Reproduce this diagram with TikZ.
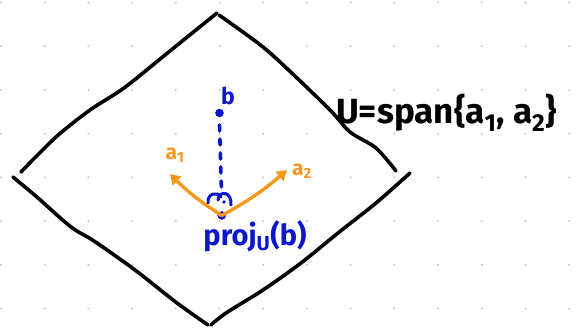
\documentclass[tikz,border=0pt]{standalone}
\usepackage{fontspec}
\setmainfont{Fira Sans}
\usetikzlibrary{arrows.meta}
\definecolor{penblue}{RGB}{12,22,205}
\definecolor{penorange}{RGB}{247,152,30}

\begin{document}
\begin{tikzpicture}[x=1pt,y=-1pt]
  \tikzset{
    pen/.style={line width=3.6pt, line cap=round, line join=round},
    vec/.style={pen, penorange, line width=3.4pt, -{Triangle[length=10pt,width=12pt]}},
    hand/.style={inner sep=0pt, font=\bfseries},
  }
  \useasboundingbox (0,0) rectangle (580,329);

  % dot grid
  \foreach \i in {0,...,13}
    \foreach \j in {0,...,7}
      \fill[gray!45] (1+43.7*\i, 2.6+43.7*\j) circle (1.1pt);

  % plane U
  \draw[pen] plot[smooth] coordinates {(21,172) (56,137) (90,110) (124,88) (165,55) (217,13)};
  \draw[pen] plot[smooth] coordinates {(219,15) (263,47) (297,78) (331,111) (350,132) (376,148) (396,171)};
  \draw[pen] plot[smooth] coordinates {(13,177) (38,198) (71,227) (94,241) (135,270) (177,303) (208,325)};
  \draw[pen] plot[smooth] coordinates {(211,325) (226,313) (263,290) (301,263) (338,233) (376,203) (410,173)};

  \node[hand, font=\bfseries\fontsize{35}{35}\selectfont, anchor=west] (span) at (336,113)
    {U=span\{a\textsubscript{1}, a\textsubscript{2}\}};

  % b and its projection
  \coordinate (bpt) at (219.5,113);
  \coordinate (proj) at (221.7,215.5);
  \draw[pen, penblue, dash pattern=on 6pt off 8pt] (bpt) ++(0,12) -- (221.5,192);
  \filldraw[penblue] (bpt) circle (4pt);
  \filldraw[penblue] (proj) circle (4pt);
  \node[hand, penblue, font=\bfseries\fontsize{23}{23}\selectfont] (blab) at (228,96) {b};

  % right angle mark
  \draw[pen, penblue, line width=3pt] (208,203) .. controls (207,193) and (218,191) .. (221,197);
  \draw[pen, penblue, line width=3pt] (218,200) .. controls (219,190) and (232,191) .. (231,205);
  \fill[penblue] (224,202) circle (1.8pt);

  % basis vectors
  \coordinate (a1tip) at (170,174);
  \coordinate (a2tip) at (287,170);
  \draw[vec] (proj) to[bend left=6] (a1tip);
  \draw[vec] (proj) to[bend right=6] (a2tip);
  \node[hand, penorange, font=\bfseries\fontsize{21}{21}\selectfont] (a1lab) at (175,155) {a\textsubscript{1}};
  \node[hand, penorange, font=\bfseries\fontsize{21}{21}\selectfont] (a2lab) at (302,171) {a\textsubscript{2}};

  \node[hand, penblue, font=\bfseries\fontsize{29}{29}\selectfont] (projlab) at (255,236)
    {proj\textsubscript{U}(b)};
\end{tikzpicture}
\end{document}
